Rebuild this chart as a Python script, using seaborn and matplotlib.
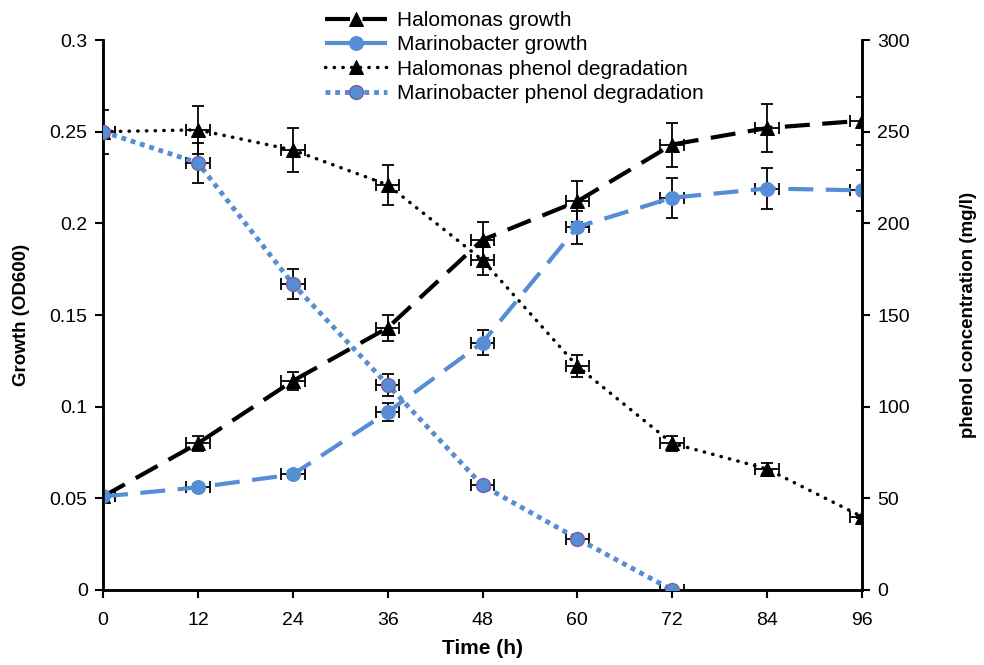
import numpy as np
import pandas as pd
import matplotlib
matplotlib.use("Agg")
import matplotlib.pyplot as plt
import seaborn as sns

# time points (h)
hours = [0, 12, 24, 36, 48, 60, 72, 84, 96]

# growth (OD600), left axis
halo_growth = [0.051, 0.080, 0.114, 0.143, 0.191, 0.212, 0.243, 0.252, 0.256]
halo_growth_err = [0.002, 0.004, 0.005, 0.007, 0.010, 0.011, 0.012, 0.013, 0.013]
mari_growth = [0.051, 0.056, 0.063, 0.097, 0.135, 0.198, 0.214, 0.219, 0.218]
mari_growth_err = [0.002, 0.002, 0.002, 0.005, 0.007, 0.009, 0.011, 0.011, 0.011]

# phenol concentration (mg/l), right axis
halo_phenol = [250, 251, 240, 221, 180, 122, 80, 66, 40]
halo_phenol_err = [12, 13, 12, 11, 8, 6, 4, 3, 1]
mari_hours = [0, 12, 24, 36, 48, 60, 72]
mari_phenol = [250, 233, 167, 112, 57, 28, 0]
mari_phenol_err = [1, 11, 8, 6, 2, 2, 1]

x_err = 1.5

BLUE = "#558ED5"
PURPLE = "#7F5FA0"


def main():
    sns.set_style("ticks")
    plt.rcParams["font.family"] = ["Liberation Sans", "DejaVu Sans"]
    for k in ("text.color", "axes.labelcolor", "xtick.color", "ytick.color", "axes.edgecolor"):
        plt.rcParams[k] = "black"

    fig = plt.figure(figsize=(9.84, 6.65), dpi=100)
    ax = fig.add_axes([0.1047, 0.1128, 0.7713, 0.827])
    ax2 = ax.twinx()

    eb = dict(fmt="none", ecolor="black", elinewidth=1.3, capsize=4, capthick=1.3, zorder=2)

    # growth curves
    ax.errorbar(hours, halo_growth, yerr=halo_growth_err, xerr=x_err, **eb)
    ax.errorbar(hours, mari_growth, yerr=mari_growth_err, xerr=x_err, **eb)
    sns.lineplot(x=hours, y=halo_growth, ax=ax, color="black", lw=3,
                 linestyle=(0, (6, 3)), marker="^", markersize=10,
                 markeredgecolor="black", label="Halomonas growth", zorder=3)
    sns.lineplot(x=hours, y=mari_growth, ax=ax, color=BLUE, lw=3,
                 linestyle=(0, (6, 3)), marker="o", markersize=10,
                 markeredgecolor=BLUE, label="Marinobacter growth", zorder=3)

    # phenol degradation
    ax2.errorbar(hours, halo_phenol, yerr=halo_phenol_err, xerr=x_err, **eb)
    ax2.errorbar(mari_hours, mari_phenol, yerr=mari_phenol_err, xerr=x_err, **eb)
    sns.lineplot(x=hours, y=halo_phenol, ax=ax2, color="black", lw=2.5,
                 linestyle=(0, (0.1, 2.4)), dash_capstyle="round", marker="^",
                 markersize=10, markeredgecolor="black",
                 label="Halomonas phenol degradation", zorder=3)
    sns.lineplot(x=mari_hours, y=mari_phenol, ax=ax2, color=BLUE, lw=3.5,
                 linestyle=(0, (1, 1)), marker="o", markersize=10,
                 markerfacecolor=BLUE, markeredgecolor=PURPLE, markeredgewidth=1,
                 label="Marinobacter phenol degradation", zorder=3)

    ax.set_xlim(0, 96)
    ax.set_xticks(hours)
    ax.set_ylim(0, 0.3)
    ax.set_yticks(np.arange(0, 0.31, 0.05))
    ax.set_yticklabels(["0", "0.05", "0.1", "0.15", "0.2", "0.25", "0.3"])
    ax2.set_ylim(0, 300)
    ax2.set_yticks(range(0, 301, 50))

    ax.set_xlabel("Time (h)", fontsize=15, fontweight="bold", labelpad=7)
    ax.set_ylabel("Growth (OD600)", fontsize=13.5, fontweight="bold", labelpad=14)
    ax2.set_ylabel("phenol concentration (mg/l)", fontsize=13.5, fontweight="bold", labelpad=36)

    for a in (ax, ax2):
        a.tick_params(labelsize=14, width=1.5, length=6, direction="out", pad=5)
        for s in a.spines.values():
            s.set_linewidth(1.8)
    ax.tick_params(axis="x", pad=10)
    ax.spines["top"].set_visible(False)
    ax2.spines["top"].set_visible(False)

    h1, l1 = ax.get_legend_handles_labels()
    h2, l2 = ax2.get_legend_handles_labels()
    ax.get_legend().remove()
    ax2.get_legend().remove()
    fig.legend(h1 + h2, l1 + l2, loc="upper left", bbox_to_anchor=(0.315, 1.005),
               frameon=False, fontsize=15, handlelength=3.0, labelspacing=0.25,
               borderaxespad=0.3, handletextpad=0.5)

    fig.savefig("out.png", dpi=100)


if __name__ == "__main__":
    main()
